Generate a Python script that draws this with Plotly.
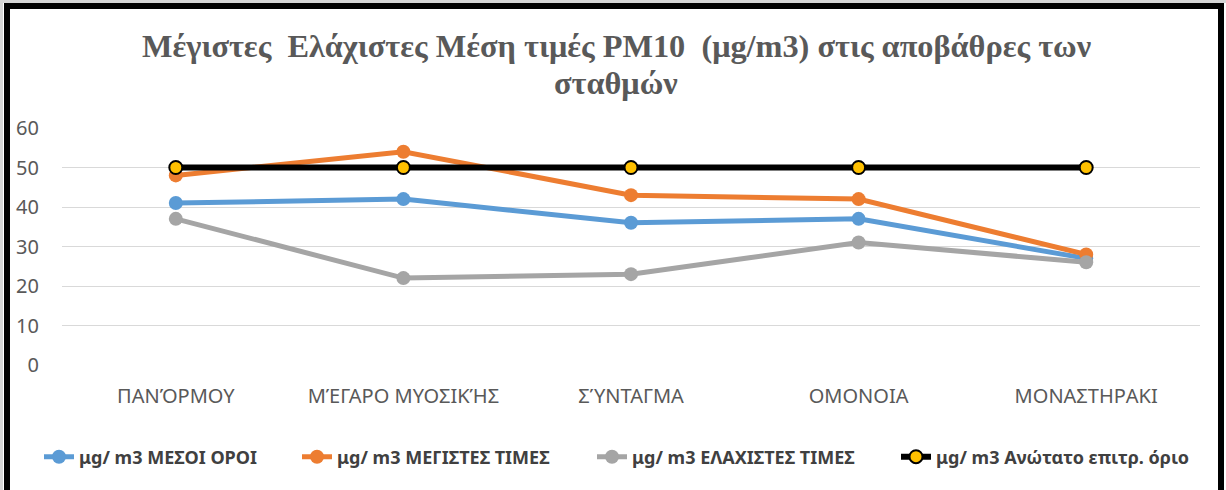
import plotly.graph_objects as go

categories = ["ΠΑΝΌΡΜΟΥ", "ΜΈΓΑΡΟ ΜΥΟΣΙΚΉΣ", "ΣΎΝΤΑΓΜΑ", "ΟΜΟΝΟΙΑ", "ΜΟΝΑΣΤΗΡΑΚΙ"]
mean_vals = [41, 42, 36, 37, 27]
max_vals = [48, 54, 43, 42, 28]
min_vals = [37, 22, 23, 31, 26]
limit_vals = [50, 50, 50, 50, 50]

names = ["μg/ m3 ΜΕΣΟΙ ΟΡΟΙ", "μg/ m3 ΜΕΓΙΣΤΕΣ ΤΙΜΕΣ", "μg/ m3 ΕΛΑΧΙΣΤΕΣ ΤΙΜΕΣ", "μg/ m3 Ανώτατο επιτρ. όριο"]
title_lines = ["Μέγιστες  Ελάχιστες Μέση τιμές PM10  (μg/m3) στις αποβάθρες των", "σταθμών"]
y_ticks = [0, 10, 20, 30, 40, 50, 60]

W, H = 1226, 490
L, R, T, B = 62, 26, 128, 125

legend_ids = ["legend", "legend2", "legend3", "legend4"]
legend_x = [35, 293, 588, 892]

fig = go.Figure()
styles = [
    dict(color="#5B9BD5", lw=5, msize=14, mcolor="#5B9BD5", mline=0, mlc="#5B9BD5"),
    dict(color="#ED7D31", lw=5, msize=14, mcolor="#ED7D31", mline=0, mlc="#ED7D31"),
    dict(color="#A5A5A5", lw=5, msize=14, mcolor="#A5A5A5", mline=0, mlc="#A5A5A5"),
    dict(color="#000000", lw=6, msize=13, mcolor="#FFC000", mline=2, mlc="#000000"),
]
for name, vals, st, lg in zip(names, [mean_vals, max_vals, min_vals, limit_vals], styles, legend_ids):
    fig.add_trace(go.Scatter(
        x=categories, y=vals, name=name, mode="lines+markers", legend=lg,
        line=dict(color=st["color"], width=st["lw"]),
        marker=dict(size=st["msize"], color=st["mcolor"],
                    line=dict(width=st["mline"], color=st["mlc"])),
    ))

pw = W - L - R
ph = H - T - B
def px_x(p):
    return (p - L) / pw
def px_y(p):
    return (H - B - p) / ph

edge = dict(color="#D4D4D4", width=3)
fig.add_shape(type="line", xref="paper", yref="paper", x0=px_x(1.5), x1=px_x(1.5), y0=px_y(0), y1=px_y(500), line=edge)
fig.add_shape(type="line", xref="paper", yref="paper", x0=px_x(0), x1=px_x(1226), y0=px_y(1.5), y1=px_y(1.5), line=edge)
frame = dict(color="black", width=6)
fig.add_shape(type="line", xref="paper", yref="paper", x0=px_x(7), x1=px_x(7), y0=px_y(6), y1=px_y(500), line=frame)
fig.add_shape(type="line", xref="paper", yref="paper", x0=px_x(1221), x1=px_x(1221), y0=px_y(6), y1=px_y(500), line=frame)
fig.add_shape(type="line", xref="paper", yref="paper", x0=px_x(4), x1=px_x(1224), y0=px_y(6), y1=px_y(6), line=frame)

title_font = dict(family="Liberation Serif", size=32.3, color="#595959", weight="bold")
for text, yc in zip(title_lines, [46, 83]):
    fig.add_annotation(
        text=text, xref="paper", yref="paper", x=px_x(616), y=px_y(yc),
        xanchor="center", yanchor="middle", showarrow=False, font=title_font,
    )

legend_style = dict(
    orientation="h", xref="container", xanchor="left",
    y=1 - 457 / H, yref="container", yanchor="middle",
    font=dict(family="Noto Sans", size=18, color="#404040", weight="bold"),
    itemwidth=30, bgcolor="rgba(0,0,0,0)",
)
legends = {}
for lg, lx in zip(legend_ids, legend_x):
    legends[lg] = dict(legend_style, x=(lx + 4) / W)

fig.update_layout(
    width=W, height=H,
    margin=dict(l=L, r=R, t=T, b=B, autoexpand=False),
    paper_bgcolor="white", plot_bgcolor="white",
    xaxis=dict(
        type="category", range=[-0.5, 4.5], showgrid=False, zeroline=False, showline=False,
        tickfont=dict(family="Noto Sans", size=20, color="#595959"),
        ticks="", ticklabelstandoff=17, automargin=False,
    ),
    yaxis=dict(
        range=[0, 60], tickvals=y_ticks, showgrid=True, gridcolor="#D9D9D9", gridwidth=1.3,
        zeroline=False, showline=False, ticks="",
        tickfont=dict(family="Noto Sans", size=20, color="#595959"),
        ticklabelstandoff=22, automargin=False,
    ),
    showlegend=True,
    **legends,
)

fig.write_html("out.html", config={"displayModeBar": False},
               post_script="document.body.style.margin='0';")
